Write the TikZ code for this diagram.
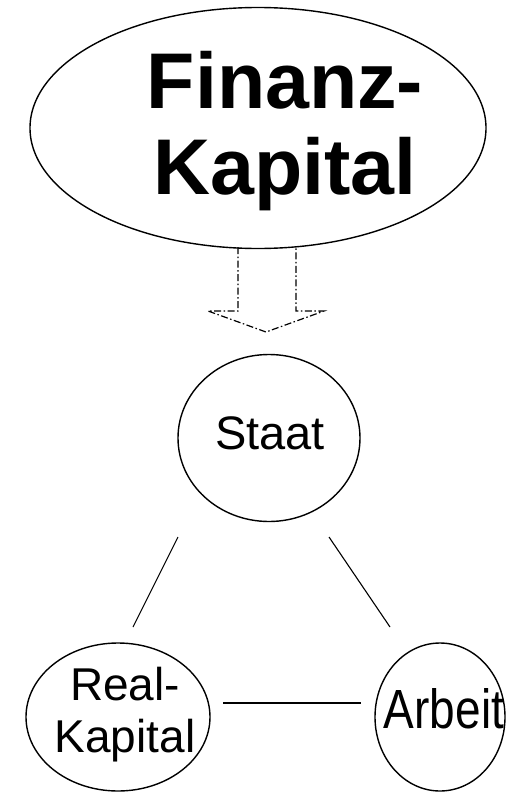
\documentclass[tikz,border=0pt]{standalone}
\usepackage{fontspec}
\setmainfont{Liberation Sans}
\usetikzlibrary{shapes.geometric}

\tikzset{
  oval/.style={draw, ellipse, line width=1.4pt, inner sep=0pt},
  txt/.style={inner sep=0pt, align=center, anchor=base},
  link/.style={line width=1.1pt},
  flow/.style={line width=1.2pt, dash pattern=on 7pt off 2.5pt on 1.5pt off 2.5pt}
}

\begin{document}
\begin{tikzpicture}[x=1pt, y=-1pt]
  \useasboundingbox (0,0) rectangle (515,792);

  % Finance capital at the top
  \node[oval, minimum width=456pt, minimum height=241pt] (fin) at (258,128) {};
  \node[txt, font=\fontsize{79}{86}\selectfont\bfseries] (finlabel) at (285,194) {Finanz-\\Kapital};

  % Hollow dash-dot arrow pointing down to the state
  \draw[flow] (238,247) -- (238,311) -- (208,311) -- (266,332)
              -- (324,311) -- (296,311) -- (296,247);

  % The triangle: state, real capital, labour
  \node[oval, minimum width=182pt, minimum height=167pt] (staat) at (269,438) {};
  \node[txt, font=\fontsize{47}{52}\selectfont] (staatlabel) at (270,449) {Staat};

  \node[oval, minimum width=184pt, minimum height=148pt] (real) at (118,717) {};
  \node[txt, font=\fontsize{46}{52}\selectfont] (reallabel) at (125,752) {Real-\\Kapital};

  \node[oval, minimum width=130pt, minimum height=148pt] (arbeit) at (440,717) {};
  \node[txt, font=\fontsize{46}{52}\selectfont] (arbeitlabel) at (444,728) {\scalebox{1}[1.2]{Arbeit}};

  % Connectors with free ends between the circles
  \coordinate (sl) at (178,537);
  \coordinate (rl) at (133,627);
  \coordinate (sr) at (329,537);
  \coordinate (ar) at (390,627);
  \coordinate (rh) at (223,703);
  \coordinate (ah) at (361,703);
  \draw[link] (sl) -- (rl);
  \draw[link] (sr) -- (ar);
  \draw[link] (rh) -- (ah);
\end{tikzpicture}
\end{document}
